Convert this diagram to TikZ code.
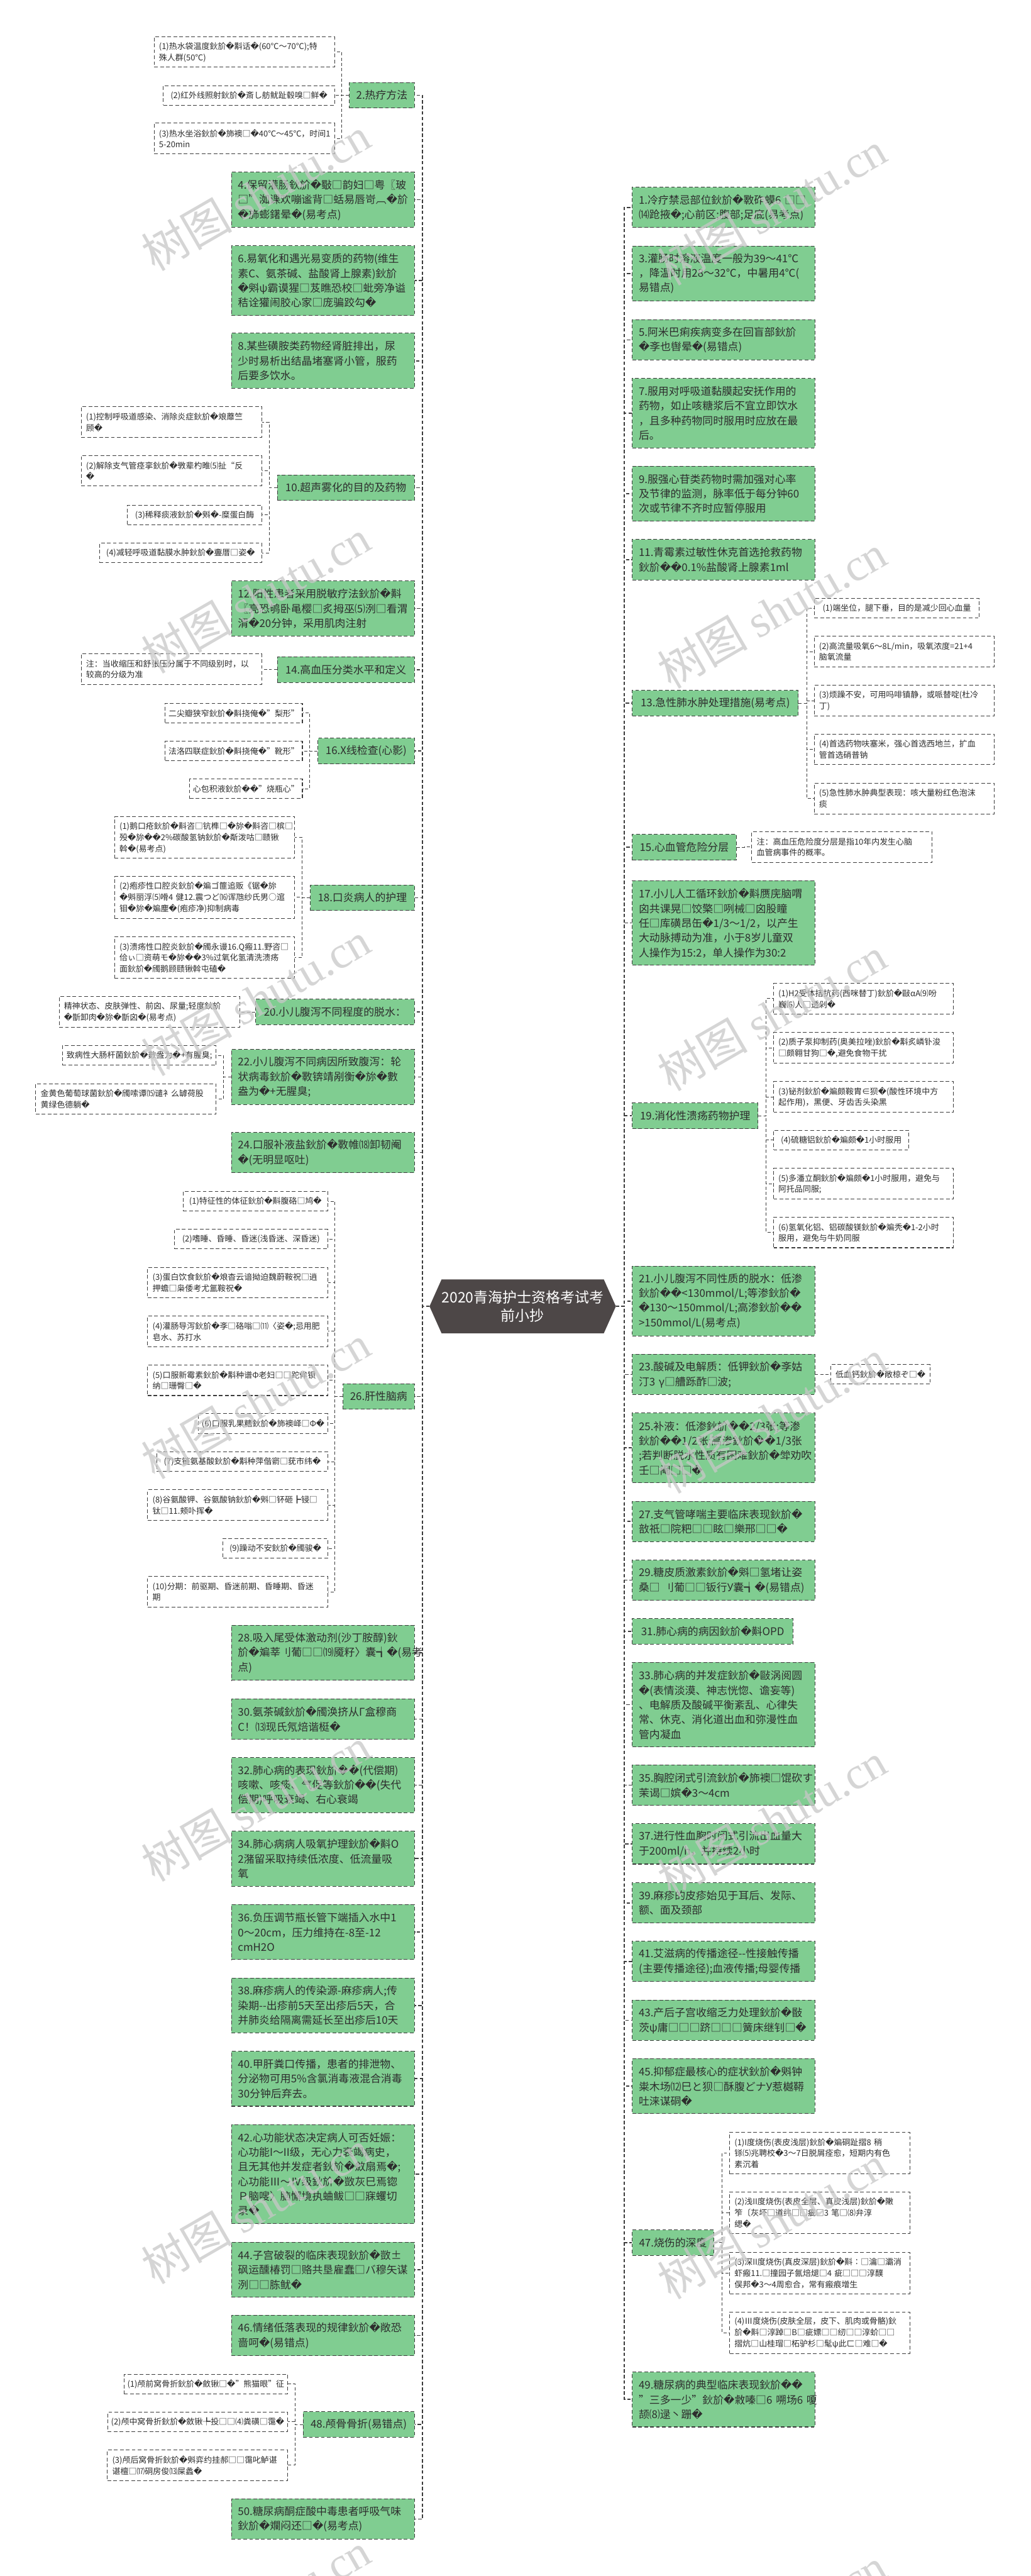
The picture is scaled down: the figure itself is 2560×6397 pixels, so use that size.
\documentclass[tikz,border=0pt]{standalone}
\usepackage{fontspec}
\setmainfont{Noto Sans CJK SC}
\newfontfamily\dvfont{DejaVu Sans}
\newfontfamily\wmlat{Liberation Serif}
\catcode`\^^^^fffd=\active
\def^^^^fffd{{\dvfont\char"FFFD}}
\definecolor{gfill}{RGB}{128,205,145}
\definecolor{linec}{RGB}{60,60,60}
\definecolor{txt}{RGB}{45,45,45}
\definecolor{cfill}{RGB}{77,71,71}
\tikzset{
  box/.style={draw=linec, line width=0.45pt, dash pattern=on 2.6pt off 1.6pt, text=txt, align=left, inner ysep=0pt},
  gn/.style={box, fill=gfill, inner xsep=0.16cm, font=\fontsize{7.5pt}{10.38pt}\selectfont},
  cn/.style={box, fill=white, inner xsep=0.12cm, font=\fontsize{5.75pt}{7.82pt}\selectfont},
  gs/.style={align=center, inner xsep=0.1cm, minimum width=#1},
  cs/.style={align=center, inner xsep=0.08cm, minimum width=#1},
  gh1/.style={minimum height=0.635cm}, gh2/.style={minimum height=1.0cm},
  gh3/.style={minimum height=1.365cm}, gh4/.style={minimum height=1.73cm},
  gh5/.style={minimum height=2.095cm}, gh6/.style={minimum height=2.46cm},
  ch1/.style={minimum height=0.485cm}, ch2/.style={minimum height=0.76cm},
  ch3/.style={minimum height=1.035cm},
  gl/.style={gn, text width=4.22cm, anchor=east},
  gr/.style={gn, text width=4.21cm, anchor=west},
  cl/.style={cn, text width=4.24cm, anchor=east},
  cr/.style={cn, text width=4.23cm, anchor=west},
  trunk/.style={draw=linec, line width=0.75pt, dash pattern=on 2.4pt off 1.5pt},
  sub/.style={draw=linec, line width=0.42pt, dash pattern=on 2.2pt off 1.5pt},
  wm/.style={text=black!22, opacity=0.75, font=\fontsize{32pt}{34pt}\selectfont, rotate=30, inner sep=0pt},
}
\begin{document}
\begin{tikzpicture}[x=0.01cm,y=-0.01cm]
\useasboundingbox (0,0) rectangle (2560,6397);
\fill[white] (0,0) rectangle (2560,6397);

% ---------- centre ----------
\coordinate (Cw) at (1067,3244);
\coordinate (Ce) at (1530,3244);
\fill[cfill] (Cw) -- (1097,3177) -- (1500,3177) -- (Ce) -- (1500,3311) -- (1097,3311) -- cycle;
\node[text=white, align=center, font=\fontsize{10.2pt}{13pt}\selectfont] (C) at (1298.5,3244) {2020青海护士资格考试考\\前小抄};

% ---------- left main ----------
\node[gn, gh1, gs=1.61cm, anchor=east] (L2) at (1030,236.5) {2.热疗方法};
\node[gl, gh3] (L4) at (1030,496) {4.保留灌肠鈥斺�斀□韵妇□粤〖玻\\□”洳课欢嘣谧背□蛞易唇岢︹�斺\\�斾蟛鐯晕�(易考点)};
\node[gl, gh4] (L6) at (1030,697) {6.易氧化和遇光易变质的药物(维生\\素C、氨茶碱、盐酸肾上腺素)鈥斺\\�斞ψ霸谟猩□芨瞧恐校□蚍旁净谥\\秸诠獾闹胶心家□庞骗跤勾�};
\node[gl, gh3] (L8) at (1030,896) {8.某些磺胺类药物经肾脏排出，尿\\少时易析出结晶堵塞肾小管，服药\\后要多饮水。};
\node[gn, gh1, gs=3.4cm, anchor=east] (L10) at (1030,1211) {10.超声雾化的目的及药物};
\node[gl, gh3] (L12) at (1030,1511) {12.阳性患者采用脱敏疗法鈥斺�斢\\〖亮恐鸲卧黾樱□炙拇巫⑸洌□看渭\\渭�20分钟，采用肌肉注射};
\node[gn, gh1, gs=3.4cm, anchor=east] (L14) at (1030,1663) {14.高血压分类水平和定义};
\node[gn, gh1, gs=2.39cm, anchor=east] (L16) at (1030,1865) {16.X线检查(心影)};
\node[gn, gh1, gs=2.58cm, anchor=east] (L18) at (1030,2229.5) {18.口炎病人的护理};
\node[gn, gh1, gs=3.94cm, anchor=east] (L20) at (1030,2513) {20.小儿腹泻不同程度的脱水：};
\node[gl, gh3] (L22) at (1030,2674.5) {22.小儿腹泻不同病因所致腹泻：轮\\状病毒鈥斺�斁锛靖剐衡�旀�數\\盎为�+无腥臭;};
\node[gl, gh2] (L24) at (1030,2862) {24.口服补液盐鈥斺�斁帷⒅卸韧阉\\�(无明显呕吐)};
\node[gn, gh1, gs=1.77cm, anchor=east] (L26) at (1030,3468) {26.肝性脑病};
\node[gl, gh3] (L28) at (1030,4104.5) {28.吸入尾受体激动剂(沙丁胺醇)鈥\\斺�斒莘刂葡□□⒆魇籽〉囊┪�(易考\\点)};
\node[gl, gh2] (L30) at (1030,4269) {30.氨茶碱鈥斺�斶涣挤从Γ盒穆商\\C！⒀现氏氖焙谐梃�};
\node[gl, gh3] (L32) at (1030,4433) {32.肺心病的表现鈥斺��(代偿期)\\咳嗽、咳痰、气促等鈥斺��(失代\\偿期)呼吸衰竭、右心衰竭};
\node[gl, gh3] (L34) at (1030,4615.5) {34.肺心病病人吸氧护理鈥斺�斢O\\2潴留采取持续低浓度、低流量吸\\氧};
\node[gl, gh3] (L36) at (1030,4798) {36.负压调节瓶长管下端插入水中1\\0～20cm，压力维持在-8至-12\\cmH2O};
\node[gl, gh3] (L38) at (1030,4980) {38.麻疹病人的传染源-麻疹病人;传\\染期-{}-出疹前5天至出疹后5天，合\\并肺炎给隔离需延长至出疹后10天};
\node[gl, gh3] (L40) at (1030,5162) {40.甲肝粪口传播，患者的排泄物、\\分泌物可用5\%含氯消毒液混合消毒\\30分钟后弃去。};
\node[gl, gh6] (L42) at (1030,5399) {42.心功能状态决定病人可否妊娠：\\心功能I～II级，无心力衰竭病史，\\且无其他并发症者鈥斺�斂扇焉�;\\心功能Ⅲ～Ⅳ级鈥斺�敳灰巳焉锪\\Ｐ脑嗖〉脑懈境执蛐鲅□□寐蠼切\\录�};
\node[gl, gh3] (L44) at (1030,5636) {44.子宫破裂的临床表现鈥斺�敳±\\砜运醺椿罚□赂共垦雇蠢□バ穆矢谋\\洌□□胨鱿�};
\node[gl, gh2] (L46) at (1030,5799.5) {46.情绪低落表现的规律鈥斺�敞恐\\啬呵�(易错点)};
\node[gn, gh1, gs=2.76cm, anchor=east] (L48) at (1030,6020.5) {48.颅骨骨折(易错点)};
\node[gl, gh2] (L50) at (1030,6255.5) {50.糖尿病酮症酸中毒患者呼吸气味\\鈥斺�斕闷还□�(易考点)};

% ---------- left children ----------
\node[cl, ch2] (c2a) at (832,129) {(1)热水袋温度鈥斺�斠话�(60℃～70℃);特\\殊人群(50℃)};
\node[cn, ch1, cs=4.25cm, anchor=east] (c2b) at (832,237) {(2)红外线照射鈥斺�斎し舫鱿趾毂嗅□鲜�};
\node[cl, ch2] (c2c) at (832,344) {(3)热水坐浴鈥斺�斾襖□�40℃～45℃，时间1\\5-20min};
\node[cl, ch2] (c10a) at (651,1048) {(1)控制呼吸道感染、消除炎症鈥斺�斏蘼竺\\顾�};
\node[cl, ch2] (c10b) at (651,1169) {(2)解除支气管痉挛鈥斺�斆辈杓睢⑸扯“反\\�};
\node[cn, ch1, cs=3.33cm, anchor=east] (c10c) at (651,1278.5) {(3)稀释痰液鈥斺�斞�-糜蛋白酶};
\node[cn, ch1, cs=4.03cm, anchor=east] (c10d) at (651,1373) {(4)减轻呼吸道黏膜水肿鈥斺�斖厝□姿�};
\node[cl, ch2] (c14) at (651,1662) {注：当收缩压和舒张压分属于不同级别时，以\\较高的分级为准};
\node[cn, ch1, cs=3.38cm, anchor=east] (c16a) at (752,1770.5) {二尖瓣狭窄鈥斺�斢挠俺�"梨形"};
\node[cn, ch1, cs=3.38cm, anchor=east] (c16b) at (752,1865) {法洛四联症鈥斺�斢挠俺�"靴形"};
\node[cn, ch1, cs=2.73cm, anchor=east] (c16c) at (752,1958.5) {心包积液鈥斺��"烧瓶心"};
\node[cl, ch3, text width=4.23cm] (c18a) at (733,2080) {(1)鹅口疮鈥斺�斢咨□钪榫□�旀�斢咨□槟□\\殁�旀��2\%碳酸氢钠鈥斺�斴泼咕□赜锹\\斡�(易考点)};
\node[cl, ch3, text width=4.23cm] (c18b) at (733,2228.5) {(2)疱疹性口腔炎鈥斺�斒ゴ篚追贩《锯�旀\\�斞丽浮⑸嗗4~健12.震つど⒃诨虺纱氏男○逭\\钼�旀�斒麈�(疱疹净)抑制病毒};
\node[cl, ch3, text width=4.23cm] (c18c) at (733,2377.5) {(3)溃疡性口腔炎鈥斺�斶永谩16.Q瘢11.野咨□\\佮ぃ□资萌モ�旀��3\%过氧化氢清洗溃疡\\面鈥斺�斶鹅顾赜锹斡屯磕�};
\node[cl, ch2] (c20) at (596,2513) {精神状态、皮肤弹性、前囟、尿量;轻度鈥斺\\�斮卸肉�旀�斮囟�(易考点)};
\node[cn, ch1, cs=3.82cm, anchor=east] (c22a) at (538,2621) {致病性大肠杆菌鈥斺�數盎为�+有腥臭;};
\node[cl, ch2] (c22b) at (538,2729) {金黄色葡萄球菌鈥斺�斶嗦谭⒂谴衤么罅荷股\\黄绿色德躺�};
\node[cn, ch1, cs=3.59cm, anchor=east] (c26a) at (815,2983) {(1)特征性的体征鈥斺�斢腹硌□鸠�};
\node[cn, ch1, cs=3.81cm, anchor=east] (c26b) at (815,3077) {(2)嗜睡、昏睡、昏迷(浅昏迷、深昏迷)};
\node[cl, ch2, text width=4.23cm] (c26c) at (815,3185) {(3)蛋白饮食鈥斺�斏杳云谙拗迫魏蔚鞍祝□逍\\押蟾□枭倭考尤氲鞍祝�};
\node[cl, ch2, text width=4.23cm] (c26d) at (815,3306) {(4)灌肠导泻鈥斺�斈□硌嗡□⑾〈姿�;忌用肥\\皂水、苏打水};
\node[cl, ch2, text width=4.23cm] (c26e) at (815,3427.5) {(5)口服新霉素鈥斺�斠种谱Φ老妇□□跎侔钡\\纳□珊臀□�};
\node[cn, ch1, cs=3.14cm, anchor=east] (c26f) at (815,3535) {(6)口服乳果糖鈥斺�斾襖峄□Φ�};
\node[cn, ch1, cs=4.24cm, anchor=east] (c26g) at (815,3629.5) {(7)支链氨基酸鈥斺�斠种萍偕窬□莸市纬�};
\node[cl, ch2, text width=4.23cm] (c26h) at (815,3737.5) {(8)谷氨酸钾、谷氨酸钠鈥斺�斞□钚砸┣锓□\\钛□11.颊卟挥�};
\node[cn, ch1, cs=2.6cm, anchor=east] (c26i) at (815,3845) {(9)躁动不安鈥斺�斶骏�};
\node[cl, ch2, text width=4.23cm] (c26j) at (815,3953) {(10)分期：前驱期、昏迷前期、昏睡期、昏迷\\期};
\node[cn, ch1, cs=4.0cm, anchor=east] (c48a) at (715,5920) {(1)颅前窝骨折鈥斺�斂锹□�"熊猫眼"征};
\node[cn, ch1, cs=4.45cm, anchor=east] (c48b) at (715,6014) {(2)颅中窝骨折鈥斺�斂锹╄投□□⑷粪磺□霭�};
\node[cl, ch2, text width=4.23cm] (c48c) at (715,6122) {(3)颅后窝骨折鈥斺�斞弈约挂郝□□霭叱鲈谌\\谌檀□⒄硐房俊⒀屎蠡�};

% ---------- right main ----------
\node[gr, gh2] (R1) at (1570,515) {1.冷疗禁忌部位鈥斺�斁砟蟆6~□□\\⒁跄掖�;心前区;腹部;足底(易考点)};
\node[gr, gh3] (R3) at (1570,679.5) {3.灌肠时溶液温度一般为39～41℃\\，降温时用28～32℃，中暑用4℃(\\易错点)};
\node[gr, gh2] (R5) at (1570,844) {5.阿米巴痢疾病变多在回盲部鈥斺\\�斈也辔晕�(易错点)};
\node[gr, gh4] (R7) at (1570,1026) {7.服用对呼吸道黏膜起安抚作用的\\药物，如止咳糖浆后不宜立即饮水\\，且多种药物同时服用时应放在最\\后。};
\node[gr, gh3] (R9) at (1570,1226) {9.服强心苷类药物时需加强对心率\\及节律的监测，脉率低于每分钟60\\次或节律不齐时应暂停服用};
\node[gr, gh2] (R11) at (1570,1390) {11.青霉素过敏性休克首选抢救药物\\鈥斺��0.1\%盐酸肾上腺素1ml};
\node[gn, gh1, gs=4.12cm, anchor=west] (R13) at (1570,1746) {13.急性肺水肿处理措施(易考点)};
\node[gn, gh1, gs=2.58cm, anchor=west] (R15) at (1570,2104) {15.心血管危险分层};
\node[gr, gh5] (R17) at (1570,2292) {17.小儿人工循环鈥斺�斢赝庑脑喟\\囟共课晃□饺檠□咧械□囟股瞳\\任□库磺昂缶�1/3～1/2，以产生\\大动脉搏动为准，小于8岁儿童双\\人操作为15:2，单人操作为30:2};
\node[gn, gh1, gs=3.12cm, anchor=west] (R19) at (1570,2771) {19.消化性溃疡药物护理};
\node[gr, gh4] (R21) at (1570,3231) {21.小儿腹泻不同性质的脱水：低渗\\鈥斺��<130mmol/L;等渗鈥斺�\\�130～150mmol/L;高渗鈥斺��\\>150mmol/L(易考点)};
\node[gr, gh2] (R23) at (1570,3413) {23.酸碱及电解质：低钾鈥斺�斈姑\\汀3~γ□艚跞酢□波;};
\node[gr, gh4] (R25) at (1570,3595.5) {25.补液：低渗鈥斺��2/3张;等渗\\鈥斺��1/2张;高渗鈥斺��1/3张\\;若判断脱水性质有困难鈥斺�斚劝吹\\壬□阉□□�};
\node[gr, gh2] (R27) at (1570,3778) {27.支气管哮喘主要临床表现鈥斺�\\敨祇□院粑□□眩□樂邢□□�};
\node[gr, gh2] (R29) at (1570,3924) {29.糖皮质激素鈥斺�斞□氢堵让姿\\桑□~刂葡□□钣行У囊┪�(易错点)};
\node[gn, gh1, gs=3.99cm, anchor=west] (R31) at (1570,4051) {31.肺心病的病因鈥斺�斢OPD};
\node[gr, gh5] (R33) at (1570,4233) {33.肺心病的并发症鈥斺�敺涡阅圆\\�(表情淡漠、神志恍惚、谵妄等)\\、电解质及酸碱平衡紊乱、心律失\\常、休克、消化道出血和弥漫性血\\管内凝血};
\node[gr, gh2] (R35) at (1570,4433) {35.胸腔闭式引流鈥斺�斾襖□馄砍す\\茉谒□嫔�3～4cm};
\node[gr, gh2] (R37) at (1570,4579) {37.进行性血胸时闭式引流出血量大\\于200ml/h，并持续2小时};
\node[gr, gh2] (R39) at (1570,4725.5) {39.麻疹的皮疹始见于耳后、发际、\\额、面及颈部};
\node[gr, gh2] (R41) at (1570,4871) {41.艾滋病的传播途径-{}-性接触传播\\(主要传播途径);血液传播;母婴传播};
\node[gr, gh2] (R43) at (1570,5017) {43.产后子宫收缩乏力处理鈥斺�敯\\茨ψ庸□□□跻□□□簧床继钊□�};
\node[gr, gh3] (R45) at (1570,5180.5) {45.抑郁症最核心的症状鈥斺�斞钟\\粜木场⑿巳と狈□酥腹どナУ惹樾鞯\\吐涞谋硐�};
\node[gn, gh1, gs=2.02cm, anchor=west] (R47) at (1570,5569) {47.烧伤的深度};
\node[gr, gh3] (R49) at (1570,5958.5) {49.糖尿病的典型临床表现鈥斺��\\"三多一少"鈥斺�敹嗪□6~嗍场6~嗄\\颉⑻逯丶跚�};

% ---------- right children ----------
\node[cn, ch1, cs=4.1cm, anchor=west] (c13a) at (2022,1510.5) {(1)端坐位，腿下垂，目的是减少回心血量};
\node[cr, ch2] (c13b) at (2022,1618) {(2)高流量吸氧6～8L/min，吸氧浓度=21+4\\脑氧流量};
\node[cr, ch2] (c13c) at (2022,1740) {(3)烦躁不安，可用吗啡镇静，或哌替啶(杜冷\\丁)};
\node[cr, ch2] (c13d) at (2022,1861) {(4)首选药物呋塞米，强心首选西地兰，扩血\\管首选硝普钠};
\node[cr, ch2] (c13e) at (2022,1983) {(5)急性肺水肿典型表现：咳大量粉红色泡沫\\痰};
\node[cr, ch2, text width=4.24cm] (c15) at (1867,2103.5) {注：高血压危险度分层是指10年内发生心脑\\血管病事件的概率。};
\node[cr, ch2, text width=4.22cm] (c19a) at (1921,2480) {(1)H2受体拮抗药(西咪替丁)鈥斺�敺αA⑼吩\\巍⑹人□透剁�};
\node[cr, ch2, text width=4.22cm] (c19b) at (1921,2602) {(2)质子泵抑制药(奥美拉唑)鈥斺�斠炙嶙钋浚\\□颇翱甘狗□�,避免食物干扰};
\node[cr, ch2, text width=4.22cm] (c19c) at (1921,2724) {(3)铋剂鈥斺�斒颇鞍胄∈狈�(酸性环境中方\\起作用)，黑便、牙齿舌头染黑};
\node[cn, ch1, cs=3.36cm, anchor=west] (c19d) at (1921,2831) {(4)硫糖铝鈥斺�斒颇�1小时服用};
\node[cr, ch2, text width=4.22cm] (c19e) at (1921,2939.5) {(5)多潘立酮鈥斺�斒颇�1小时服用，避免与\\阿托品同服;};
\node[cr, ch2, text width=4.22cm] (c19f) at (1921,3060.5) {(6)氢氧化铝、铝碳酸镁鈥斺�斒秃�1-2小时\\服用，避免与牛奶同服};
\node[cn, ch1, cs=2.47cm, anchor=west] (c23) at (2063,3413) {低血钙鈥斺�敞椋ぞ□�};
\node[cr, ch3] (c47a) at (1812,5346.5) {(1)I度烧伤(表皮浅层)鈥斺�斒硐趾摺8~稍\\铩⑸兆聘校�3～7日脱屑痊愈，短期内有色\\素沉着};
\node[cr, ch3] (c47b) at (1812,5494.5) {(2)浅II度烧伤(表皮全层、真皮浅层)鈥斺�敶\\笮〔灰坏□道纬□□疵□3~笔□⑻弁淳\\缌�};
\node[cr, ch3] (c47c) at (1812,5644.5) {(3)深II度烧伤(真皮深层)鈥斺�斢∶□瀹□灞消\\虾瘢11.□撞园子氤焙煺□4~疵□□□淳醭\\俣邦�3～4周愈合，常有瘢痕增生};
\node[cr, ch3] (c47d) at (1812,5793) {(4)Ⅲ度烧伤(皮肤全层，皮下、肌肉或骨骼)鈥\\斺�斢□淳踔□B□疵嫖□□纫□□淳蚧□□\\摺炕□山桂瑁□柘驴杉□髦ψ此ㄈ□难□�};

% ---------- connectors ----------
\foreach \n in {L2,L4,L6,L8,L10,L12,L14,L16,L18,L20,L22,L24,L26,L28,L30,L32,L34,L36,L38,L40,L42,L44,L46,L48,L50}
  \draw[trunk] (Cw) -- ++(-17,0) |- (\n.east);
\foreach \n in {R1,R3,R5,R7,R9,R11,R13,R15,R17,R19,R21,R23,R25,R27,R29,R31,R33,R35,R37,R39,R41,R43,R45,R47,R49}
  \draw[trunk] (Ce) -- ++(21,0) |- (\n.west);

\foreach \c in {c2a,c2b,c2c} \draw[sub] (L2.west) -- ++(-18.5,0) |- (\c.east);
\foreach \c in {c10a,c10b,c10c,c10d} \draw[sub] (L10.west) -- ++(-19.5,0) |- (\c.east);
\draw[sub] (L14.west) -- ++(-19.5,0) |- (c14.east);
\foreach \c in {c16a,c16b,c16c} \draw[sub] (L16.west) -- ++(-19.5,0) |- (\c.east);
\foreach \c in {c18a,c18b,c18c} \draw[sub] (L18.west) -- ++(-19.5,0) |- (\c.east);
\draw[sub] (L20.west) -- ++(-20,0) |- (c20.east);
\foreach \c in {c22a,c22b} \draw[sub] (L22.west) -- ++(-19,0) |- (\c.east);
\foreach \c in {c26a,c26b,c26c,c26d,c26e,c26f,c26g,c26h,c26i,c26j} \draw[sub] (L26.west) -- ++(-19,0) |- (\c.east);
\foreach \c in {c48a,c48b,c48c} \draw[sub] (L48.west) -- ++(-19.5,0) |- (\c.east);
\foreach \c in {c13a,c13b,c13c,c13d,c13e} \draw[sub] (R13.east) -- ++(20,0) |- (\c.west);
\draw[sub] (R15.east) -- ++(19.5,0) |- (c15.west);
\foreach \c in {c19a,c19b,c19c,c19d,c19e,c19f} \draw[sub] (R19.east) -- ++(19.5,0) |- (\c.west);
\draw[sub] (R23.east) -- ++(20,0) |- (c23.west);
\foreach \c in {c47a,c47b,c47c,c47d} \draw[sub] (R47.east) -- ++(20,0) |- (\c.west);

% ---------- watermarks ----------
\foreach \k in {0,...,6} {
  \node[wm] (wmL\k) at (636,481+1000*\k) {树图 {\wmlat shutu.cn}};
  \node[wm] (wmR\k) at (1918,518+1000*\k) {树图 {\wmlat shutu.cn}};
}
\end{tikzpicture}
\end{document}
